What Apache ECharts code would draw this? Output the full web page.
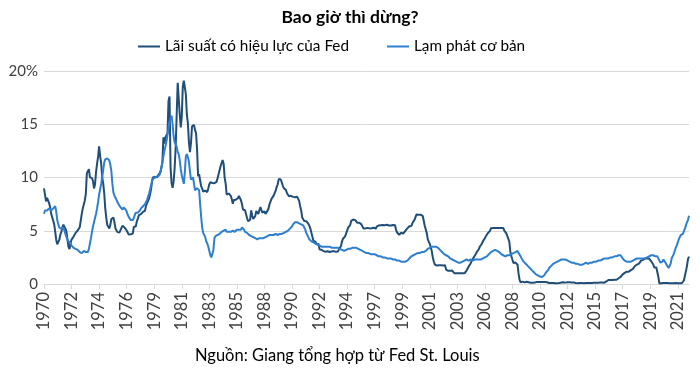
<!DOCTYPE html>
<html>
<head>
<meta charset="utf-8">
<script src="https://cdn.jsdelivr.net/npm/echarts@6/dist/echarts.min.js"></script>
<style>
html,body{margin:0;padding:0;background:#fff;}
#chart{width:700px;height:371px;}
</style>
</head>
<body>
<div id="chart"></div>
<script>
// Monthly data, Jan 1970 .. Sep 2022
var startYear = 1970;
var fedRate = [
8.98,8.98,7.76,8.10,7.94,7.60,7.21,6.61,6.29,6.20,5.60,4.90,
4.14,3.72,3.71,4.16,4.63,4.91,5.31,5.57,5.55,5.20,4.91,4.14,
3.50,3.29,3.83,4.17,4.27,4.46,4.55,4.80,4.87,5.04,5.06,5.33,
5.94,6.58,7.09,7.12,7.84,8.49,10.40,10.50,10.78,10.01,10.03,9.95,
9.65,8.97,9.35,10.51,11.31,11.93,12.92,12.01,11.34,10.06,9.45,8.53,
7.13,6.24,5.54,5.49,5.22,5.55,6.10,6.14,6.24,5.82,5.22,5.20,
4.87,4.77,4.84,4.82,5.29,5.48,5.31,5.29,5.25,5.02,4.95,4.65,
4.61,4.68,4.69,4.73,5.35,5.39,5.42,5.90,6.14,6.47,6.51,6.56,
6.70,6.78,6.79,6.89,7.36,7.60,7.81,8.04,8.45,8.96,9.76,10.03,
10.07,10.06,10.09,10.01,10.24,10.29,10.47,10.94,11.43,13.77,13.18,13.78,
13.82,14.13,17.19,17.61,10.98,9.47,9.03,9.61,10.87,12.81,15.85,18.90,
19.08,15.93,14.70,15.72,18.52,19.10,19.04,17.82,15.87,15.08,13.31,12.37,
13.22,14.78,14.68,14.94,14.45,14.15,12.59,10.12,10.31,9.71,9.20,8.95,
8.68,8.51,8.77,8.80,8.63,8.98,9.37,9.56,9.45,9.48,9.34,9.47,
9.56,9.59,9.91,10.29,10.32,11.06,11.23,11.64,11.30,9.99,9.43,8.38,
8.35,8.50,8.58,8.27,7.97,7.53,7.88,7.90,7.92,7.99,8.05,8.27,
8.14,7.86,7.48,6.99,6.85,6.92,6.56,6.17,5.89,5.85,6.04,6.91,
6.43,6.10,6.13,6.37,6.85,6.73,6.58,6.73,7.22,7.29,6.69,6.77,
6.83,6.58,6.58,6.87,7.09,7.51,7.75,8.01,8.19,8.30,8.35,8.76,
9.12,9.36,9.85,9.84,9.81,9.53,9.24,8.99,9.02,8.84,8.55,8.45,
8.23,8.24,8.28,8.26,8.18,8.29,8.15,8.13,8.20,8.11,7.81,7.31,
6.91,6.25,6.12,5.91,5.78,5.90,5.82,5.66,5.45,5.21,4.81,4.43,
4.03,4.06,3.98,3.73,3.82,3.76,3.25,3.30,3.22,3.10,3.09,2.92,
3.02,3.03,3.07,2.96,3.00,3.04,3.06,3.03,3.09,2.99,3.02,2.96,
3.05,3.25,3.34,3.56,4.01,4.25,4.26,4.47,4.73,4.76,5.29,5.45,
5.53,5.92,5.98,6.05,6.01,6.00,5.85,5.74,5.80,5.76,5.80,5.60,
5.56,5.22,5.31,5.22,5.24,5.27,5.40,5.22,5.30,5.24,5.31,5.29,
5.25,5.19,5.39,5.51,5.50,5.56,5.52,5.54,5.54,5.50,5.52,5.50,
5.56,5.51,5.49,5.45,5.49,5.56,5.54,5.55,5.51,5.07,4.83,4.68,
4.63,4.76,4.81,4.74,4.74,4.76,4.99,5.07,5.22,5.20,5.42,5.30,
5.45,5.73,5.85,6.02,6.27,6.53,6.54,6.50,6.52,6.51,6.51,6.40,
5.98,5.49,5.31,4.80,4.21,3.97,3.77,3.65,3.07,2.49,2.09,1.82,
1.73,1.74,1.73,1.75,1.75,1.75,1.73,1.74,1.75,1.75,1.34,1.24,
1.24,1.26,1.25,1.26,1.26,1.22,1.01,1.03,1.01,1.01,1.00,0.98,
1.00,1.01,1.00,1.00,1.00,1.03,1.26,1.43,1.61,1.76,1.93,2.16,
2.28,2.50,2.63,2.79,3.00,3.04,3.26,3.50,3.62,3.78,4.00,4.16,
4.29,4.49,4.59,4.79,4.94,4.99,5.24,5.25,5.25,5.25,5.25,5.24,
5.25,5.26,5.26,5.25,5.25,5.25,5.26,5.02,4.94,4.76,4.49,4.24,
3.94,2.98,2.61,2.28,1.98,2.00,2.01,2.00,1.81,0.97,0.39,0.16,
0.15,0.22,0.18,0.15,0.18,0.21,0.16,0.16,0.15,0.12,0.12,0.12,
0.11,0.13,0.16,0.20,0.20,0.18,0.18,0.19,0.19,0.19,0.19,0.18,
0.17,0.16,0.14,0.10,0.09,0.09,0.07,0.10,0.08,0.07,0.08,0.07,
0.08,0.10,0.13,0.14,0.16,0.16,0.16,0.13,0.14,0.16,0.16,0.16,
0.14,0.15,0.14,0.15,0.11,0.09,0.09,0.08,0.08,0.09,0.08,0.09,
0.07,0.07,0.08,0.09,0.09,0.10,0.09,0.09,0.09,0.09,0.09,0.12,
0.11,0.11,0.11,0.12,0.12,0.13,0.13,0.14,0.14,0.12,0.12,0.24,
0.34,0.38,0.36,0.37,0.37,0.38,0.39,0.40,0.40,0.40,0.41,0.54,
0.65,0.66,0.79,0.90,0.91,1.04,1.15,1.16,1.15,1.15,1.16,1.30,
1.41,1.42,1.51,1.69,1.70,1.82,1.91,1.91,1.95,2.19,2.20,2.27,
2.40,2.40,2.41,2.42,2.39,2.38,2.40,2.13,2.04,1.83,1.55,1.55,
1.55,1.58,0.65,0.05,0.05,0.08,0.09,0.10,0.09,0.09,0.09,0.09,
0.09,0.08,0.07,0.07,0.06,0.08,0.10,0.09,0.08,0.08,0.08,0.08,
0.08,0.08,0.20,0.33,0.77,1.21,1.68,2.33,2.56
];
var coreInflation = [
6.6,6.9,7.0,6.9,7.0,7.1,7.0,6.9,7.0,7.1,7.2,7.3,
6.8,6.0,5.6,5.3,5.2,5.2,5.1,5.3,5.0,4.7,4.4,4.2,
4.0,3.9,3.8,3.6,3.5,3.4,3.3,3.3,3.2,3.2,3.1,3.0,
2.9,2.9,3.0,3.1,3.0,3.0,2.9,3.0,3.3,3.8,4.3,4.9,
5.4,5.8,6.2,6.6,7.1,7.7,8.4,8.9,9.4,10.0,10.7,11.4,
11.7,11.8,11.8,11.7,11.6,11.2,10.6,9.4,8.6,8.3,8.1,7.9,
7.7,7.5,7.4,7.2,7.1,7.0,7.2,7.3,7.0,6.8,6.5,6.3,
6.2,6.0,6.0,6.0,6.2,6.5,6.7,6.8,6.7,6.8,6.9,7.1,
7.2,7.3,7.4,7.5,7.7,7.9,8.2,8.5,8.9,9.3,9.7,9.9,
10.0,10.0,10.0,10.1,10.1,10.2,10.5,10.9,11.4,12.0,12.5,12.9,
13.4,14.0,14.6,15.2,15.6,15.8,15.0,13.9,13.3,13.1,12.9,12.4,
12.2,11.6,10.8,10.2,9.8,9.4,10.5,12.0,12.2,11.9,11.5,10.6,
9.8,9.9,10.0,9.4,8.8,8.9,9.0,8.9,8.8,7.5,6.3,5.3,
4.8,4.7,4.4,4.0,3.8,3.5,3.1,2.7,2.5,2.6,3.2,4.3,
4.5,4.6,4.6,4.7,4.7,4.8,4.9,4.9,5.0,5.0,5.1,4.9,
4.8,4.9,4.8,4.9,4.9,5.0,4.9,4.9,5.0,5.1,5.0,5.1,
5.2,5.1,5.3,5.2,5.1,4.9,4.9,4.8,4.7,4.6,4.6,4.5,
4.5,4.4,4.3,4.3,4.2,4.2,4.2,4.3,4.2,4.3,4.3,4.3,
4.4,4.4,4.5,4.5,4.5,4.6,4.5,4.6,4.7,4.6,4.7,4.7,
4.7,4.6,4.7,4.7,4.8,4.7,4.7,4.8,4.8,4.9,4.9,5.0,
5.1,5.2,5.3,5.4,5.6,5.7,5.8,5.9,5.8,5.7,5.7,5.6,
5.6,5.5,5.5,5.3,5.1,4.8,4.6,4.4,4.2,4.1,4.0,3.9,
3.9,3.8,3.8,3.7,3.7,3.6,3.6,3.6,3.5,3.6,3.5,3.5,
3.5,3.5,3.5,3.4,3.5,3.4,3.4,3.4,3.4,3.4,3.4,3.4,
3.4,3.3,3.3,3.3,3.2,3.2,3.1,3.2,3.2,3.2,3.3,3.3,
3.3,3.3,3.4,3.4,3.4,3.3,3.4,3.3,3.3,3.2,3.2,3.2,
3.1,3.1,3.0,3.0,2.9,2.9,2.9,2.8,2.8,2.8,2.8,2.8,
2.8,2.7,2.7,2.7,2.6,2.6,2.6,2.6,2.5,2.5,2.5,2.5,
2.4,2.4,2.4,2.4,2.4,2.3,2.3,2.3,2.3,2.3,2.2,2.2,
2.2,2.1,2.1,2.1,2.1,2.1,2.1,2.1,2.2,2.3,2.4,2.5,
2.6,2.7,2.7,2.8,2.8,2.9,2.9,2.9,2.9,3.0,3.0,3.0,
3.0,3.1,3.1,3.2,3.3,3.3,3.4,3.4,3.5,3.5,3.5,3.5,
3.5,3.4,3.4,3.3,3.2,3.1,3.0,2.9,2.8,2.7,2.7,2.6,
2.6,2.5,2.4,2.3,2.3,2.2,2.2,2.1,2.1,2.0,2.0,2.0,
2.0,2.1,2.1,2.1,2.2,2.2,2.3,2.2,2.2,2.2,2.3,2.2,
2.2,2.2,2.3,2.2,2.3,2.3,2.3,2.3,2.3,2.4,2.4,2.4,
2.5,2.5,2.6,2.7,2.8,2.9,3.0,3.1,3.1,3.2,3.2,3.2,
3.1,3.0,3.0,2.9,2.8,2.7,2.7,2.6,2.6,2.6,2.7,2.7,
2.7,2.8,2.8,2.8,2.9,2.9,3.0,3.0,3.1,2.9,2.8,2.6,
2.4,2.3,2.1,2.0,1.9,1.8,1.7,1.6,1.5,1.4,1.3,1.2,
1.1,1.0,0.9,0.9,0.8,0.8,0.7,0.7,0.65,0.7,0.8,0.9,
1.1,1.2,1.3,1.5,1.6,1.7,1.8,1.9,2.0,2.0,2.1,2.1,
2.1,2.2,2.2,2.3,2.3,2.3,2.3,2.3,2.2,2.2,2.2,2.1,
2.1,2.0,2.0,2.0,1.9,1.9,1.9,1.9,1.8,1.8,1.8,1.8,
1.9,1.9,2.0,2.0,1.9,1.9,1.9,2.0,2.0,2.0,2.0,2.1,
2.1,2.1,2.1,2.2,2.2,2.2,2.3,2.3,2.3,2.4,2.4,2.4,
2.4,2.4,2.4,2.5,2.5,2.5,2.6,2.6,2.6,2.6,2.6,2.7,
2.6,2.7,2.6,2.4,2.3,2.2,2.1,2.1,2.1,2.1,2.1,2.1,
2.2,2.2,2.3,2.3,2.4,2.4,2.4,2.4,2.4,2.4,2.4,2.4,
2.4,2.4,2.4,2.5,2.5,2.6,2.6,2.7,2.7,2.7,2.7,2.6,
2.6,2.6,2.5,2.2,2.0,1.9,2.1,2.3,2.2,2.0,1.8,1.7,
1.5,1.5,1.9,2.4,2.6,2.8,3.1,3.4,3.6,3.9,4.2,4.4,
4.6,4.7,4.7,4.8,5.2,5.5,5.8,6.0,6.4
];
var yTicks = [0, 5, 10, 15, 20];
var seriesNames = ['Lãi suất có hiệu lực của Fed', 'Lạm phát cơ bản'];
var titleText = 'Bao giờ thì dừng?';
var sourceText = 'Nguồn: Giang tổng hợp từ Fed St. Louis';

var months = [];
for (var i = 0; i < fedRate.length; i++) {
  var y = startYear + Math.floor(i / 12);
  var m = (i % 12) + 1;
  months.push(y + '-' + (m < 10 ? '0' + m : m));
}

var FONT = 'Lato, "Open Sans", "Noto Sans", sans-serif';
var chart = echarts.init(document.getElementById('chart'), null, {renderer: 'canvas'});
chart.setOption({
  animation: false,
  backgroundColor: '#ffffff',
  textStyle: {fontFamily: FONT},
  title: [
    {text: titleText, left: 'center', top: 3,
     textStyle: {fontFamily: FONT, fontSize: 17.5, fontWeight: 'bold', color: '#000000'}},
    {text: sourceText, left: 190, top: 342,
     textStyle: {fontFamily: FONT, fontSize: 16.5, fontWeight: 'normal', color: '#000000'}}
  ],
  legend: {
    top: 34, left: 133,
    icon: 'rect', itemWidth: 22, itemHeight: 2, itemGap: 38,
    textStyle: {fontFamily: FONT, fontSize: 15.3, color: '#000000'},
    data: seriesNames
  },
  grid: {left: 44, right: 11, top: 71, bottom: 87, containLabel: false},
  xAxis: {
    type: 'category',
    boundaryGap: false,
    data: months,
    axisLine: {show: true, lineStyle: {color: '#d9d9d9', width: 1}},
    axisTick: {show: true, interval: 26, length: 5, lineStyle: {color: '#d9d9d9'}},
    axisLabel: {
      interval: 26, rotate: 90, margin: 8,
      fontFamily: FONT, fontSize: 16.5, color: '#404040',
      formatter: function (v) { return v.slice(0, 4); }
    },
    splitLine: {show: false}
  },
  yAxis: {
    type: 'value',
    min: yTicks[0], max: yTicks[yTicks.length - 1], interval: 5,
    axisLine: {show: false},
    axisTick: {show: false},
    axisLabel: {
      margin: 6, fontFamily: FONT, fontSize: 15, color: '#404040',
      formatter: function (v) { return v === 20 ? '20%' : String(v); }
    },
    splitLine: {show: true, lineStyle: {color: '#d9d9d9', width: 1}}
  },
  series: [
    {name: seriesNames[0], type: 'line', data: fedRate, showSymbol: false,
     lineStyle: {width: 2, color: '#1f4e79'}, itemStyle: {color: '#1f4e79'}},
    {name: seriesNames[1], type: 'line', data: coreInflation, showSymbol: false,
     lineStyle: {width: 2, color: '#2e7fd0'}, itemStyle: {color: '#2e7fd0'}}
  ]
});
</script>
</body>
</html>
